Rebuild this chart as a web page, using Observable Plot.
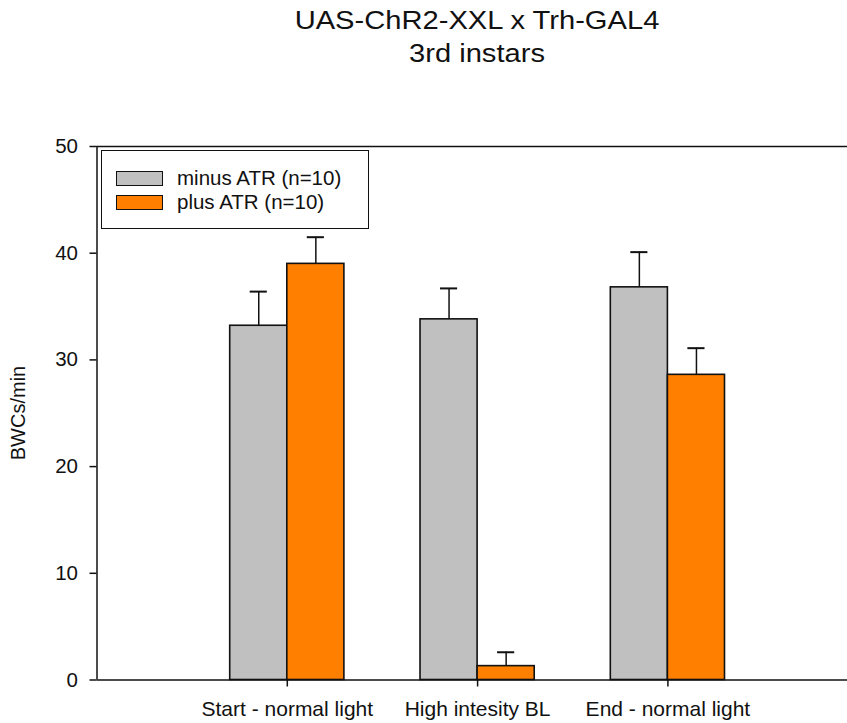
<!DOCTYPE html>
<html>
<head>
<meta charset="utf-8">
<script src="https://cdn.jsdelivr.net/npm/d3@7"></script>
<script src="https://cdn.jsdelivr.net/npm/@observablehq/plot@0.6"></script>
<style>
  html, body { margin: 0; padding: 0; background: #fff; }
  #wrap { position: relative; width: 847px; height: 723px; overflow: hidden; font-family: Arial, "Liberation Sans", sans-serif; }
  #title { position: absolute; left: 0; width: 954px; top: 4px; text-align: center; font-size: 26px; line-height: 33px; color: #111; transform: scaleX(1.12); transform-origin: 477px 0; }
  #legend { position: absolute; left: 101px; top: 150px; width: 268px; height: 79px; border: 1.5px solid #111; background: #fff; box-sizing: border-box; }
  .item { position: absolute; left: 14px; height: 16px; display: flex; align-items: center; font-size: 20.5px; color: #111; }
  .sw { width: 47px; height: 15px; border: 1.5px solid #111; margin-right: 14px; box-sizing: border-box; }
  #ylab { position: absolute; left: 18px; top: 413px; transform: translate(-50%, -50%) rotate(-90deg); font-size: 20px; color: #111; white-space: nowrap; }
</style>
</head>
<body>
<div id="wrap">
  <div id="chart"></div>
  <div id="title">UAS-ChR2-XXL x Trh-GAL4<br>3rd instars</div>
  <div id="legend"></div>
  <div id="ylab">BWCs/min</div>
</div>
<script>
const categories = ["Start - normal light", "High intesity BL", "End - normal light"];
const series = ["minus ATR (n=10)", "plus ATR (n=10)"];
const minusMean = [33.2, 33.8, 36.8];
const minusErr = [3.2, 2.9, 3.3];
const plusMean = [39.0, 1.3, 28.6];
const plusErr = [2.5, 1.3, 2.5];
const colors = ["#c0c0c0", "#ff8000"];
const yTicks = [0, 10, 20, 30, 40, 50];

const barW = 0.3;
const rows = [];
categories.forEach((c, i) => {
  const pos = i + 1;
  rows.push({cat: c, s: series[0], x1: pos - barW, x2: pos, v: minusMean[i], e: minusErr[i]});
  rows.push({cat: c, s: series[1], x1: pos, x2: pos + barW, v: plusMean[i], e: plusErr[i]});
});
const capHalf = 0.045;

const chart = Plot.plot({
  width: 847,
  height: 723,
  marginLeft: 96.5,
  marginRight: 0,
  marginTop: 146,
  marginBottom: 43.5,
  style: {fontFamily: "Arial, 'Liberation Sans', sans-serif", fontSize: "20px", color: "#111", background: "#fff"},
  x: {domain: [0, 4], range: [96.5, 857.7], axis: null},
  y: {domain: [0, 50], axis: null},
  color: {domain: series, range: colors},
  marks: [
    Plot.rectY(rows, {x1: "x1", x2: "x2", y1: 0, y2: "v", fill: "s", stroke: "#111", strokeWidth: 1.6}),
    Plot.ruleX(rows, {x: d => (d.x1 + d.x2) / 2, y1: "v", y2: d => d.v + d.e, stroke: "#111", strokeWidth: 1.5}),
    Plot.ruleY(rows, {y: d => d.v + d.e, x1: d => (d.x1 + d.x2) / 2 - capHalf, x2: d => (d.x1 + d.x2) / 2 + capHalf, stroke: "#111", strokeWidth: 2}),
    Plot.ruleY([0], {stroke: "#111", strokeWidth: 1.5}),
    Plot.ruleY([50], {stroke: "#111", strokeWidth: 1.5}),
    Plot.ruleX([0], {y1: 0, y2: 50, stroke: "#111", strokeWidth: 1.5}),
    Plot.axisY({ticks: yTicks, tickSize: 7, tickPadding: 12, fontSize: 20.5, label: null, tickFormat: d => d, stroke: "#111", strokeWidth: 1.5}),
    Plot.axisX({ticks: [1, 2, 3], tickSize: 7, tickPadding: 14, fontSize: 21, label: null, tickFormat: d => categories[d - 1], stroke: "#111", strokeWidth: 1.5})
  ]
});
document.getElementById("chart").appendChild(chart);

const leg = document.getElementById("legend");
series.forEach((s, i) => {
  const it = document.createElement("div");
  it.className = "item";
  it.style.top = (19 + i * 24) + "px";
  it.innerHTML = `<span class="sw" style="background:${colors[i]}"></span><span>${s}</span>`;
  leg.appendChild(it);
});
</script>
</body>
</html>
